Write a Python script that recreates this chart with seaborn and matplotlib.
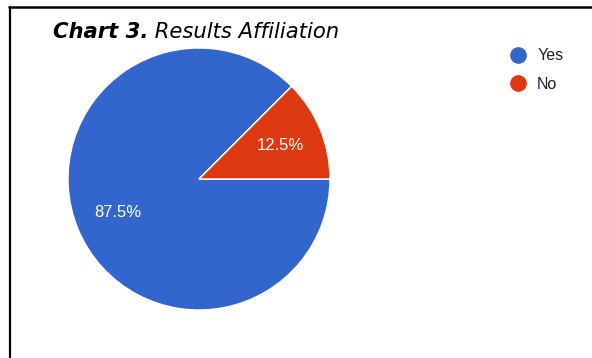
import matplotlib
matplotlib.use("Agg")
import matplotlib.pyplot as plt
from matplotlib.lines import Line2D
import seaborn as sns

# Survey answers and their shares
categories = ["Yes", "No"]
shares = [87.5, 12.5]
colors = ["#3366CC", "#DC3912"]

sns.set_theme(style="white")
plt.rcParams["font.family"] = ["Liberation Sans", "DejaVu Sans"]

W, H = 592, 358
fig = plt.figure(figsize=(W / 100, H / 100), dpi=100)
fig.patch.set_facecolor("white")

# Pie axes: centre (199, 179) px, radius 131 px
cx, cy, r = 199, 179, 131
ax = fig.add_axes([(cx - r) / W, (H - cy - r) / H, 2 * r / W, 2 * r / H])
wedges, texts, autotexts = ax.pie(
    shares,
    colors=colors,
    startangle=45,
    counterclock=True,
    radius=1,
    autopct="%.1f%%",
    pctdistance=0.67,
    wedgeprops=dict(edgecolor="white", linewidth=1),
    textprops=dict(color="white", fontsize=12),
)
ax.set_xlim(-1, 1)
ax.set_ylim(-1, 1)
ax.set_aspect("equal")
ax.axis("off")

# Legend with round markers
handles = [
    Line2D([], [], marker="o", linestyle="", markersize=11, color=c)
    for c in colors
]
fig.legend(
    handles,
    categories,
    loc="upper left",
    bbox_to_anchor=(510 / W, 1 - 48.5 / H),
    frameon=False,
    fontsize=11.5,
    handletextpad=0.7,
    labelspacing=0.85,
    handlelength=1.0,
    borderaxespad=0,
    borderpad=0,
    labelcolor="#222222",
)

# Title: bold-italic prefix followed by italic text
title_y = 1 - 38 / H
t1 = fig.text(53 / W, title_y, "Chart 3.", fontsize=15.2, fontweight="bold",
              fontstyle="italic", family="DejaVu Sans", va="baseline", color="black")
fig.canvas.draw()
bb = t1.get_window_extent(fig.canvas.get_renderer())
fig.text(bb.x1 / W, title_y, " Results Affiliation", fontsize=15.2,
         fontstyle="italic", family="DejaVu Sans", va="baseline", color="black")

# Frame lines along top and left edges
fig.add_artist(Line2D([9 / W, 1], [1 - 7 / H, 1 - 7 / H], transform=fig.transFigure,
                      color="black", linewidth=1.8))
fig.add_artist(Line2D([10 / W, 10 / W], [0, 1 - 7 / H], transform=fig.transFigure,
                      color="black", linewidth=1.6))

fig.savefig("out.png", dpi=100, facecolor="white")
